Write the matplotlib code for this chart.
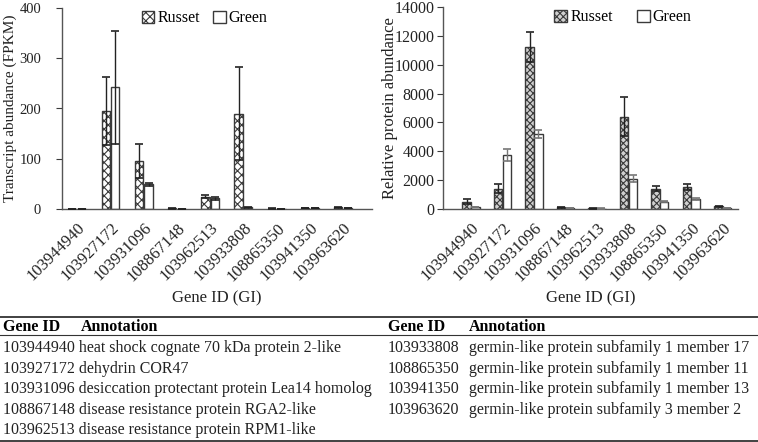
import matplotlib
matplotlib.use("Agg")
import matplotlib.pyplot as plt
import numpy as np

plt.rcParams['font.family'] = ['Liberation Serif', 'DejaVu Serif']
plt.rcParams['hatch.linewidth'] = 0.8

genes = ["103944940", "103927172", "103931096", "108867148", "103962513",
         "103933808", "108865350", "103941350", "103963620"]

# Transcript abundance (FPKM)
rna_russet = [0.5, 195, 96, 1.0, 24, 190, 0.8, 1.5, 3.0]
rna_russet_err = [0.3, 67, 34, 0.3, 3, 92, 0.2, 0.3, 0.5]
rna_green = [0.3, 242, 49, 0.5, 21, 3.0, 0.5, 1.2, 2.5]
rna_green_err = [0.1, 113, 3, 0.2, 3, 1.0, 0.1, 0.2, 0.4]

# Relative protein abundance
prot_russet = [500, 1400, 11250, 130, 40, 6400, 1400, 1500, 200]
prot_russet_err = [180, 300, 1050, 30, 10, 1350, 180, 200, 30]
prot_green = [130, 3750, 5200, 50, 30, 2100, 500, 700, 80]
prot_green_err = [20, 400, 250, 10, 5, 250, 40, 60, 10]

table_left = [("103944940", "heat shock cognate 70 kDa protein 2-like"),
              ("103927172", "dehydrin COR47"),
              ("103931096", "desiccation protectant protein Lea14 homolog"),
              ("108867148", "disease resistance protein RGA2-like"),
              ("103962513", "disease resistance protein RPM1-like")]
table_right = [("103933808", "germin-like protein subfamily 1 member 17"),
               ("108865350", "germin-like protein subfamily 1 member 11"),
               ("103941350", "germin-like protein subfamily 1 member 13"),
               ("103963620", "germin-like protein subfamily 3 member 2")]

W, H = 758, 442
fig = plt.figure(figsize=(W / 100, H / 100), dpi=100)
fig.patch.set_facecolor('white')

def px_axes(x0, y0, x1, y1):
    return fig.add_axes([x0 / W, 1 - y1 / H, (x1 - x0) / W, (y1 - y0) / H])

dark = '#3a3a3a'
x = np.arange(len(genes))

def panel(ax, r, re, g, ge, ymax, ystep, ylabel, gerr_color, ytick_fs, xtick_fs,
          hatch, rface, xlim, off, bw, ypad, ylabel_fs):
    br = ax.bar(x - off, r, bw, color=rface, edgecolor=dark, hatch=hatch,
                linewidth=1.0, label='Russet', zorder=2)
    bg = ax.bar(x + off, g, bw, color='white', edgecolor=dark,
                linewidth=1.0, label='Green', zorder=2)
    ax.errorbar(x - off, r, yerr=re, fmt='none', ecolor='#222222',
                elinewidth=1.0, capsize=3, capthick=1.2, zorder=3)
    ax.errorbar(x + off, g, yerr=ge, fmt='none', ecolor=gerr_color,
                elinewidth=1.0, capsize=3, capthick=1.2, zorder=3)
    ax.set_xlim(*xlim)
    ax.set_ylim(0, ymax)
    ax.set_yticks(np.arange(0, ymax + 1, ystep))
    ax.set_xticks(x)
    ax.set_xticklabels(genes, rotation=45, ha='right', rotation_mode='anchor',
                       fontsize=xtick_fs, color='#222222')
    ax.tick_params(axis='x', length=0, pad=8)
    ax.tick_params(axis='y', labelsize=ytick_fs, length=4, width=0.8, color=dark,
                   pad=ypad, labelcolor='#222222')
    for s in ['top', 'right']:
        ax.spines[s].set_visible(False)
    for s in ['left', 'bottom']:
        ax.spines[s].set_color('#555555')
        ax.spines[s].set_linewidth(1.0)
    ax.set_ylabel(ylabel, fontsize=ylabel_fs, color='#222222')
    ax.set_xlabel('Gene ID (GI)', fontsize=12, color='#222222', labelpad=4)
    return br, bg

ax1 = px_axes(62, 8, 372, 209)
panel(ax1, rna_russet, rna_russet_err, rna_green, rna_green_err, 400, 100,
      'Transcript abundance (FPKM)', '#222222', 10.5, 12, 'xxxx', 'white',
      (-0.46, 8.87), 0.145, 0.25, 11, 11)
ax1.legend(loc='upper center', bbox_to_anchor=(0.46, 1.02), ncol=2, frameon=False,
           fontsize=11.5, handlelength=0.8, handleheight=0.8, handletextpad=0.2,
           columnspacing=0.8, borderaxespad=0)

ax2 = px_axes(443, 7, 738, 209)
panel(ax2, prot_russet, prot_russet_err, prot_green, prot_green_err, 14000, 2000,
      'Relative protein abundance', '#777777', 11.5, 12, 'xxxxx', '#d0d0d0',
      (-0.89, 8.48), 0.137, 0.27, 2, 12)
ax2.legend(loc='upper center', bbox_to_anchor=(0.61, 1.02), ncol=2, frameon=False,
           fontsize=11.5, handlelength=0.8, handleheight=0.8, handletextpad=0.2,
           columnspacing=1.5, borderaxespad=0)
ax1.yaxis.set_label_coords(-0.145, 0.5)
ax2.yaxis.set_label_coords(-0.152, 0.5)

# Table
fs = 11.5
def ly(ypx):
    return 1 - ypx / H
fig.add_artist(plt.Line2D([0, 1], [ly(316.5), ly(316.5)], color='#333333', lw=1.3))
fig.add_artist(plt.Line2D([0, 1], [ly(334.5), ly(334.5)], color='#333333', lw=0.8))
fig.add_artist(plt.Line2D([0, 1], [ly(441), ly(441)], color='#333333', lw=1.3))
hdr_y = 327
fig.text(3 / W, ly(hdr_y), 'Gene ID', fontsize=fs, fontweight='bold', va='center')
fig.text(81 / W, ly(hdr_y), 'Annotation', fontsize=fs, fontweight='bold', va='center')
fig.text(388 / W, ly(hdr_y), 'Gene ID', fontsize=fs, fontweight='bold', va='center')
fig.text(469 / W, ly(hdr_y), 'Annotation', fontsize=fs, fontweight='bold', va='center')
row_y = [348, 368.7, 389.3, 409.7, 430.3]
for (gid, ann), yy in zip(table_left, row_y):
    fig.text(3 / W, ly(yy), gid + ' ' + ann, fontsize=fs, va='center', color='#222222')
for (gid, ann), yy in zip(table_right, row_y):
    fig.text(388 / W, ly(yy), gid, fontsize=fs, va='center', color='#222222')
    fig.text(469 / W, ly(yy), ann, fontsize=fs, va='center', color='#222222')

fig.savefig('out.png', dpi=100)
